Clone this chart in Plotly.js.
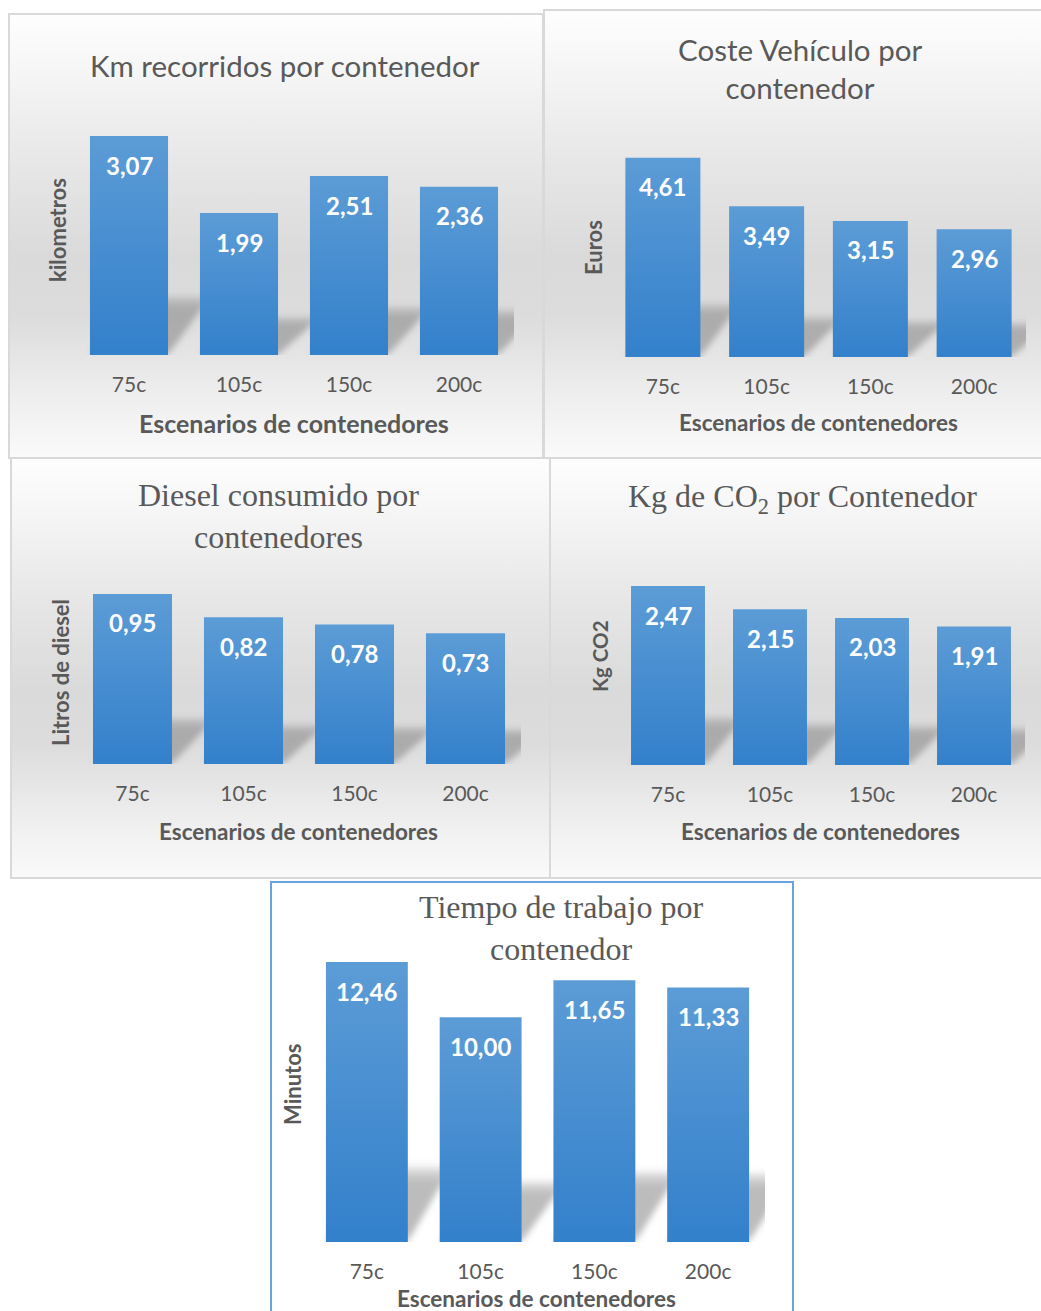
<!DOCTYPE html>
<html>
<head>
<meta charset="utf-8">
<script src="https://cdn.plot.ly/plotly-3.0.1.min.js"></script>
<style>
  html, body { margin:0; padding:0; background:#ffffff; width:1041px; height:1311px; overflow:hidden; }
  .panel { position:absolute; box-sizing:border-box; border:2px solid #d9d9d9;
    background: linear-gradient(to bottom, #fefefe 0%, #f4f4f4 15%, #e6e6e6 35%, #dadada 55%, #dcdcdc 68%, #ececec 84%, #fafafa 100%); }
  #chart { position:absolute; left:0; top:0; width:1041px; height:1311px; }
</style>
</head>
<body>
<div class="panel" style="left:8px; top:13px; width:536px; height:446px;"></div>
<div class="panel" style="left:543px; top:9px; width:520px; height:450px;"></div>
<div class="panel" style="left:10px; top:457px; width:541px; height:422px;"></div>
<div class="panel" style="left:549px; top:457px; width:520px; height:422px;"></div>
<div class="panel" style="left:270px; top:881px; width:524px; height:460px; background:#ffffff; border-color:#6aa3da;"></div>
<svg width="1" height="1" style="position:absolute;left:0;top:0">
  <defs>
    <linearGradient id="barGrad" x1="0" y1="0" x2="0" y2="1">
      <stop offset="0" stop-color="#5c9cd6"/>
      <stop offset="1" stop-color="#3380cb"/>
    </linearGradient>
    <linearGradient id="shadowGrad" x1="0" y1="0" x2="0" y2="1">
      <stop offset="0" stop-color="#7a7a7a" stop-opacity="0"/>
      <stop offset="0.1" stop-color="#7a7a7a" stop-opacity="0.3"/>
      <stop offset="0.24" stop-color="#7a7a7a" stop-opacity="0.5"/>
      <stop offset="0.88" stop-color="#7a7a7a" stop-opacity="0.5"/>
      <stop offset="1" stop-color="#7a7a7a" stop-opacity="0.36"/>
    </linearGradient>
    <filter id="softBlur" x="-50%" y="-50%" width="200%" height="200%">
      <feGaussianBlur stdDeviation="3"/>
    </filter>
  </defs>
</svg>
<div id="chart"></div>
<script>
// ---- data ----
const categories = ['75c', '105c', '150c', '200c'];
const kmValues = [3.07, 1.99, 2.51, 2.36];
const costeValues = [4.61, 3.49, 3.15, 2.96];
const dieselValues = [0.95, 0.82, 0.78, 0.73];
const co2Values = [2.47, 2.15, 2.03, 1.91];
const tiempoValues = [12.46, 10.00, 11.65, 11.33];

const titles = [
  'Km recorridos por contenedor',
  'Coste Vehículo por<br>contenedor',
  'Diesel consumido por<br>contenedores',
  'Kg de CO<sub>2</sub> por Contenedor',
  'Tiempo de trabajo por<br>contenedor'
];
const yTitles = ['kilometros', 'Euros', 'Litros de diesel', 'Kg CO2', 'Minutos'];
const xTitle = 'Escenarios de contenedores';

// ---- layout geometry (pixels) ----
const W = 1041, H = 1311;
const panels = [
  {vals: kmValues,     x0: 74,  x1: 514,  yb: 355,  yt: 105.4, ymax: 3.5, bw: 0.71,
   title: {x: 285, y: 66, serif: false}, ytit: {x: 57, y: 230, s: 22}, xtit: {x: 294, y: 423, s: 25}},
  {vals: costeValues,  x0: 611, x1: 1026, yb: 357,  yt: 141,   ymax: 5,   bw: 0.723,
   title: {x: 800, y: 68, serif: false}, ytit: {x: 593, y: 248, s: 22}, xtit: {x: 818, y: 423, s: 22.5}},
  {vals: dieselValues, x0: 77,  x1: 521,  yb: 764,  yt: 585,   ymax: 1,   bw: 0.712,
   title: {x: 278, y: 516, serif: true}, ytit: {x: 60, y: 673, s: 22}, xtit: {x: 298, y: 831, s: 22.5}},
  {vals: co2Values,    x0: 617, x1: 1025, yb: 765,  yt: 547.6, ymax: 3,   bw: 0.725,
   title: {x: 802, y: 498, serif: true}, ytit: {x: 600, y: 656, s: 20.5}, xtit: {x: 820, y: 832, s: 22.5}},
  {vals: tiempoValues, x0: 310, x1: 765,  yb: 1242, yt: 927.4, ymax: 14,  bw: 0.72,
   title: {x: 561, y: 928, serif: true}, ytit: {x: 292, y: 1085, s: 22}, xtit: {x: 537, y: 1298, s: 22.5}}
];

const sans = 'Lato, "Open Sans", sans-serif';
const serif = '"Liberation Serif", "DejaVu Serif", serif';
const grey = '#595959';
const SHADOW = 'rgb(181, 182, 183)';
const px = v => v / W;
const py = v => 1 - v / H;
const fmt = v => v.toFixed(2).replace('.', ',');

const traces = [];
const layout = {
  width: W, height: H,
  margin: {l: 0, r: 0, t: 0, b: 0},
  paper_bgcolor: 'rgba(0,0,0,0)',
  plot_bgcolor: 'rgba(0,0,0,0)',
  showlegend: false,
  annotations: [],
  shapes: []
};

panels.forEach((p, k) => {
  const n = k === 0 ? '' : String(k + 1);
  const xa = 'x' + n, ya = 'y' + n;
  traces.push({
    type: 'bar', x: categories, y: p.vals, xaxis: xa, yaxis: ya,
    width: p.bw, marker: {color: '#4a8fd3', line: {width: 0}},
    hoverinfo: 'none'
  });
  layout['xaxis' + n] = {
    domain: [px(p.x0), px(p.x1)], anchor: ya, type: 'category',
    range: [-0.5, categories.length - 0.5], autorange: false,
    showgrid: false, zeroline: false, showline: false,
    ticks: 'outside', ticklen: 11, tickcolor: 'rgba(0,0,0,0)',
    tickfont: {family: sans, size: 21, color: grey}, fixedrange: true
  };
  layout['yaxis' + n] = {
    domain: [py(p.yb), py(p.yt)], anchor: xa, range: [0, p.ymax], autorange: false,
    showgrid: false, zeroline: false, showline: false, showticklabels: false,
    ticks: '', fixedrange: true
  };
  // title
  layout.annotations.push({
    xref: 'paper', yref: 'paper', x: px(p.title.x), y: py(p.title.y),
    xanchor: 'center', yanchor: 'middle', showarrow: false, text: titles[k],
    font: p.title.serif ? {family: serif, size: 32, color: grey} : {family: sans, size: 29.5, color: grey}
  });
  // axis titles
  layout.annotations.push({
    xref: 'paper', yref: 'paper', x: px(p.ytit.x), y: py(p.ytit.y),
    xanchor: 'center', yanchor: 'middle', showarrow: false, textangle: -90,
    text: '<b>' + yTitles[k] + '</b>', font: {family: sans, size: p.ytit.s, color: grey}
  });
  layout.annotations.push({
    xref: 'paper', yref: 'paper', x: px(p.xtit.x), y: py(p.xtit.y),
    xanchor: 'center', yanchor: 'middle', showarrow: false,
    text: '<b>' + xTitle + '</b>', font: {family: sans, size: p.xtit.s, color: grey}
  });
  // data labels
  p.vals.forEach((v, i) => {
    layout.annotations.push({
      xref: xa, yref: ya, x: categories[i], y: v, yshift: -29,
      xanchor: 'center', yanchor: 'middle', showarrow: false,
      text: '<b>' + fmt(v) + '</b>', font: {family: sans, size: 24, color: '#ffffff'}
    });
  });
  // soft cast shadows behind bars
  const hw = p.bw / 2, dx = 0.4;
  p.vals.forEach((v, i) => {
    const h = 0.28 * v;
    layout.shapes.push({
      type: 'path', xref: xa, yref: ya, layer: 'below',
      path: `M ${i - hw} 0 L ${i + hw} 0 L ${i + hw + dx} ${h} L ${i - hw + dx} ${h} Z`,
      fillcolor: SHADOW, line: {width: 0}
    });
  });
});

Plotly.newPlot('chart', traces, layout, {staticPlot: true}).then(() => {
  document.querySelectorAll('.barlayer .point path').forEach(el => {
    el.style.fill = 'url(#barGrad)';
  });
  document.querySelectorAll('#chart path').forEach(el => {
    const f = (el.style.fill || '').replace(/\s/g, '');
    if (f === 'rgb(181,182,183)') {
      el.style.fill = 'url(#shadowGrad)';
      el.setAttribute('filter', 'url(#softBlur)');
    }
  });
});
</script>
</body>
</html>
